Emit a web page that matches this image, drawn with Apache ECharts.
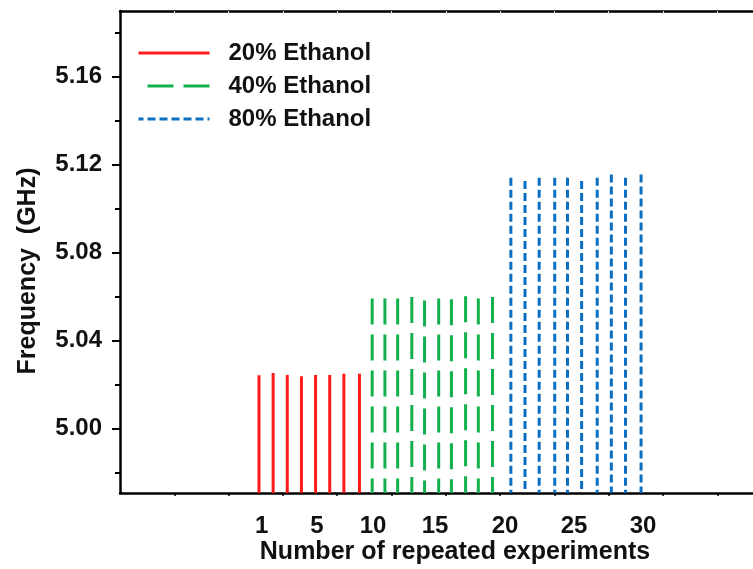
<!DOCTYPE html>
<html>
<head>
<meta charset="utf-8">
<script src="https://cdn.jsdelivr.net/npm/echarts@6/dist/echarts.min.js"></script>
<style>
html, body { margin: 0; padding: 0; background: #fff; }
#chart { width: 753px; height: 569px; }
</style>
</head>
<body>
<div id="chart"></div>
<script>
// x position of each repeated measurement (drop lines) and measured frequency in GHz
var runs20 = [1.0, 2.0, 3.0, 4.0, 5.0, 6.0, 7.0, 8.1];
var freq20 = [5.0242, 5.0252, 5.0243, 5.0237, 5.0243, 5.0243, 5.0248, 5.0248];
var runs40 = [9.0, 9.9, 10.8, 11.8, 12.7, 13.7, 14.6, 15.6, 16.5, 17.5];
var freq40 = [5.0590, 5.0590, 5.0590, 5.0597, 5.0582, 5.0590, 5.0587, 5.0601, 5.0590, 5.0597];
var runs80 = [18.8, 19.8, 20.8, 21.9, 22.8, 23.8, 24.9, 25.9, 26.9, 28.0];
var freq80 = [5.1140, 5.1125, 5.1140, 5.1140, 5.1140, 5.1125, 5.1140, 5.1155, 5.1140, 5.1155];

// tick labels
var xLabelPos = [1.2, 5.1, 9.06, 13.44, 18.39, 23.26, 28.14];
var xLabelText = ['1', '5', '10', '15', '20', '25', '30'];
var yMajor = [5.00, 5.04, 5.08, 5.12, 5.16];
var yMinor = [4.98, 5.02, 5.06, 5.10, 5.14, 5.18];

var xMin = -8.82, xMax = 35.91, xTickStep = 3.837;
var yMin = 4.9706, yMax = 5.1898;

var font = 'Arial, "Liberation Sans", sans-serif';

var xTicks = [];
for (var k = 1; xMin + k * xTickStep < xMax; k++) {
    xTicks.push(xMin + k * xTickStep);
}

// every measurement is a line dropped from its value to the bottom of the axis
function drops(xs, ys) {
    var d = [];
    for (var i = 0; i < xs.length; i++) {
        d.push([xs[i], ys[i]], [xs[i], yMin], [xs[i], '-']);
    }
    return d;
}

function dropSeries(name, xs, ys, color, dash) {
    return {
        name: name,
        type: 'line',
        data: drops(xs, ys),
        symbol: 'none',
        connectNulls: false,
        lineStyle: { color: color, width: 3, type: dash },
        itemStyle: { color: color },
        emphasis: { disabled: true },
        animation: false
    };
}

var myChart = echarts.init(document.getElementById('chart'));

var option = {
    backgroundColor: '#fff',
    grid: { left: 120, right: 0, top: 11, bottom: 76 },
    legend: {
        orient: 'vertical',
        left: 137,
        top: 41,
        padding: 0,
        itemWidth: 71,
        itemHeight: 20,
        itemGap: 9,
        itemStyle: { opacity: 0, borderWidth: 0 },
        lineStyle: { width: 3, dashOffset: 27 },
        textStyle: { fontFamily: font, fontSize: 24, fontWeight: 'bold', color: '#111', padding: [0, 0, 0, 14] },
        data: ['20% Ethanol', '40% Ethanol', '80% Ethanol']
    },
    xAxis: [
        {
            type: 'value',
            min: xMin,
            max: xMax,
            position: 'bottom',
            splitLine: { show: false },
            axisLine: { onZero: false, lineStyle: { color: '#000', width: 2.5 } },
            axisTick: { customValues: xTicks, inside: false, length: 3, lineStyle: { color: '#000', width: 1.5 } },
            axisLabel: {
                customValues: xLabelPos,
                formatter: function (v) { return xLabelText[xLabelPos.indexOf(v)]; },
                margin: 21,
                fontFamily: font,
                fontSize: 24,
                fontWeight: 'bold',
                color: '#111'
            }
        },
        {
            type: 'value',
            min: xMin,
            max: xMax,
            position: 'top',
            splitLine: { show: false },
            axisLine: { onZero: false, lineStyle: { color: '#000', width: 2.5 } },
            axisTick: { customValues: xTicks, inside: true, length: 3, lineStyle: { color: '#ddd', width: 1 } },
            axisLabel: { show: false }
        }
    ],
    yAxis: [
        {
            type: 'value',
            min: yMin,
            max: yMax,
            position: 'left',
            splitLine: { show: false },
            axisLine: { onZero: false, lineStyle: { color: '#000', width: 2.5 } },
            axisTick: { customValues: yMajor, length: 8, lineStyle: { color: '#000', width: 2 } },
            axisLabel: {
                customValues: yMajor,
                formatter: function (v) { return v.toFixed(2); },
                margin: 18,
                fontFamily: font,
                fontSize: 24,
                fontWeight: 'bold',
                color: '#111'
            }
        },
        {
            type: 'value',
            min: yMin,
            max: yMax,
            position: 'left',
            offset: 0,
            splitLine: { show: false },
            axisLine: { show: false, onZero: false },
            axisTick: { customValues: yMinor, length: 5, lineStyle: { color: '#000', width: 2 } },
            axisLabel: { show: false }
        }
    ],
    graphic: [
        {
            type: 'text',
            x: 455,
            y: 552,
            style: {
                text: 'Number of repeated experiments',
                font: 'bold 25px ' + font,
                fill: '#111',
                textAlign: 'center',
                textVerticalAlign: 'middle'
            }
        },
        {
            type: 'text',
            x: 28,
            y: 271,
            rotation: Math.PI / 2,
            style: {
                text: 'Frequency  (GHz)',
                font: 'bold 25px ' + font,
                fill: '#111',
                textAlign: 'center',
                textVerticalAlign: 'middle'
            }
        }
    ],
    series: [
        dropSeries('20% Ethanol', runs20, freq20, '#ff1a1a', 'solid'),
        dropSeries('40% Ethanol', runs40, freq40, '#12b04c', [26, 10]),
        dropSeries('80% Ethanol', runs80, freq80, '#0a6fc2', [8, 4])
    ]
};

myChart.setOption(option);
</script>
</body>
</html>
